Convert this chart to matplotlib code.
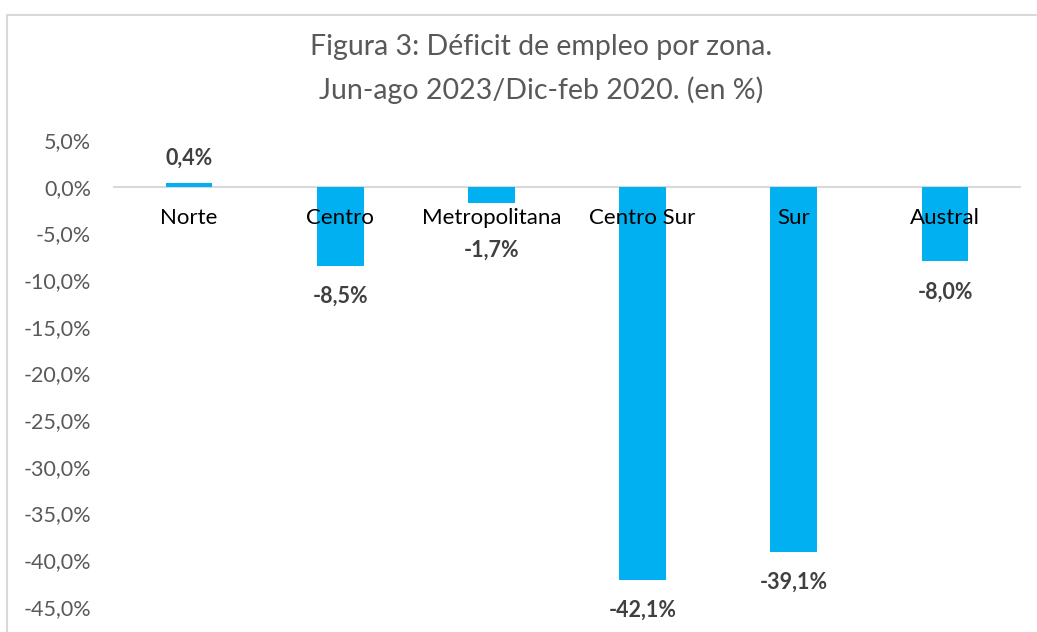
import matplotlib
matplotlib.use("Agg")
import matplotlib.pyplot as plt
from matplotlib.patches import Rectangle

zonas = ["Norte", "Centro", "Metropolitana", "Centro Sur", "Sur", "Austral"]
deficit = [0.4, -8.5, -1.7, -42.1, -39.1, -8.0]
ticks_y = [5, 0, -5, -10, -15, -20, -25, -30, -35, -40, -45]
titulo = ["Figura 3: Déficit de empleo por zona.", "Jun-ago 2023/Dic-feb 2020. (en %)"]

plt.rcParams["font.family"] = ["Lato", "DejaVu Sans"]

fig = plt.figure(figsize=(10.37, 6.32), dpi=100)
ax = fig.add_axes([0.1094, 0.0396, 0.8748, 0.739])

# borde del grafico (se sale por la derecha y abajo)
fig.patches.append(Rectangle((7 / 1037, -0.1), 1.2, 1 - 15 / 632 + 0.1,
                             transform=fig.transFigure, fill=False,
                             edgecolor="#D9D9D9", linewidth=1.5))

x = range(len(zonas))
ax.bar(x, deficit, width=0.31, color="#00B0F0", zorder=2)
ax.axhline(0, color="#D9D9D9", linewidth=1.5, zorder=1)

for i, v in enumerate(deficit):
    txt = f"{v:.1f}%".replace(".", ",")
    if v >= 0:
        off = 18
    elif v > -5:
        off = -34  # etiqueta corrida para no chocar con la categoria
    else:
        off = -22
    ax.annotate(txt, (i, v), xytext=(0, off), textcoords="offset points",
                ha="center", va="center", fontsize=15.5, fontweight="bold",
                color="#404040")
    ax.annotate(zonas[i], (i, 0), xytext=(0, -22.5), textcoords="offset points",
                ha="center", va="center", fontsize=16, color="black", zorder=3)

ax.set_xlim(-0.5, 5.5)
ax.set_ylim(-45, 5)
ax.set_yticks(ticks_y)
ax.set_yticklabels([f"{t:.1f}%".replace(".", ",") for t in ticks_y])
ax.tick_params(axis="y", length=0, labelsize=15.5, labelcolor="#595959", pad=16)
ax.set_xticks([])
for s in ax.spines.values():
    s.set_visible(False)

fig.text(0.522, 1 - 47 / 632, titulo[0], ha="center", va="center",
         fontsize=20.5, color="#595959")
fig.text(0.522, 1 - 90 / 632, titulo[1], ha="center", va="center",
         fontsize=20.5, color="#595959")

fig.savefig("out.png", dpi=100)
